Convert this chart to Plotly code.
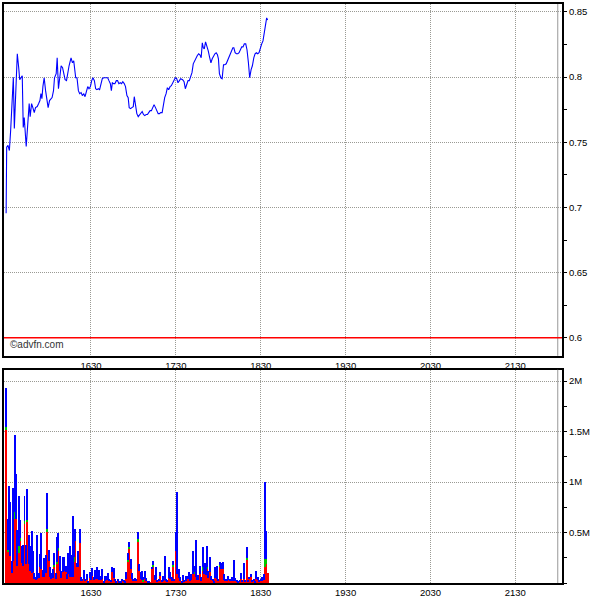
import plotly.graph_objects as go

# ---------------- data ----------------
# price readings: minutes after 15:30, price
price_min = [0.0, 0.4, 1.3, 2.3, 3.2, 4.2, 5.1, 5.8, 6.8, 7.9, 8.9, 9.6, 10.5, 11.4, 12.1, 12.8, 14.2, 15.4,
             16.3, 17.0, 18.0, 18.9, 19.9, 20.8, 22.0, 23.0, 23.9, 24.6, 25.3, 26.0, 26.9, 27.9, 28.8, 29.7,
             30.7, 31.6, 32.5, 33.5, 34.2, 35.4, 36.1, 37.0, 38.0, 38.9, 39.9, 40.8, 41.7, 42.7, 43.6, 44.5,
             45.9, 46.9, 47.8, 48.5, 49.2, 50.1, 51.1, 52.0, 53.0, 53.9, 54.9, 55.8, 56.8, 57.7, 58.6, 59.6,
             60.5, 61.4, 62.4, 63.3, 64.2, 65.2, 66.1, 67.0, 68.0, 68.9, 69.9, 70.8, 71.8, 72.7, 73.7, 74.4,
             75.1, 76.0, 76.9, 77.9, 78.8, 79.7, 80.7, 81.6, 82.5, 83.5, 84.4, 85.4, 86.3, 87.0, 88.0, 88.9,
             89.9, 90.6, 91.5, 92.4, 93.4, 94.3, 95.2, 96.2, 97.1, 98.0, 99.0, 99.9, 100.8, 101.8, 102.7,
             103.7, 104.6, 105.6, 106.5, 107.5, 108.4, 109.3, 110.3, 111.2, 112.1, 113.1, 114.0, 114.9,
             115.9, 116.8, 117.7, 118.7, 119.6, 120.6, 121.5, 122.5, 123.4, 124.8, 125.8, 126.7, 127.6,
             128.6, 129.5, 130.4, 131.4, 132.3, 133.2, 134.2, 135.1, 136.1, 137.0, 137.9, 138.7, 139.4,
             140.1, 141.0, 142.0, 142.9, 143.8, 144.8, 145.7, 146.6, 147.6, 148.5, 149.4, 150.1, 150.8,
             151.8, 152.7, 153.7, 154.6, 155.6, 156.5, 157.5, 158.4, 159.3, 160.3, 161.0, 161.9, 162.8,
             163.8, 164.7, 165.6, 166.6, 167.5, 168.4, 169.4, 170.3, 171.3, 172.2, 173.2, 174.1, 175.1,
             176.0, 176.9, 177.9, 178.8, 179.7, 180.7, 181.6, 182.5, 183.5, 184.2, 184.9]
price = [0.6956, 0.7463, 0.7476, 0.7437, 0.759, 0.782, 0.7998, 0.7606, 0.7873, 0.8179, 0.8072, 0.798,
         0.7995, 0.8011, 0.7613, 0.769, 0.7468, 0.769, 0.7797, 0.7697, 0.7797, 0.7766, 0.7728, 0.7766,
         0.7774, 0.7797, 0.782, 0.7873, 0.7835, 0.7927, 0.7995, 0.7896, 0.7804, 0.7766, 0.782, 0.7835,
         0.7843, 0.7896, 0.7995, 0.8026, 0.8148, 0.7911, 0.8011, 0.8087, 0.8072, 0.8011, 0.798, 0.7973,
         0.8034, 0.8087, 0.8148, 0.811, 0.8125, 0.8064, 0.7995, 0.7995, 0.7896, 0.7873, 0.7881, 0.7858,
         0.7873, 0.785, 0.7904, 0.7927, 0.7911, 0.7927, 0.7973, 0.7995, 0.7973, 0.7911, 0.7904, 0.7911,
         0.7904, 0.7942, 0.7988, 0.7995, 0.7995, 0.7995, 0.7995, 0.7973, 0.795, 0.7896, 0.7957, 0.795,
         0.795, 0.7973, 0.7973, 0.795, 0.7957, 0.795, 0.7965, 0.795, 0.7927, 0.7858, 0.7843, 0.7766,
         0.7758, 0.7766, 0.7774, 0.785, 0.7774, 0.772, 0.7697, 0.7713, 0.7728, 0.7736, 0.7713, 0.7705,
         0.7713, 0.7713, 0.7728, 0.7743, 0.7743, 0.7766, 0.7789, 0.7766, 0.7743, 0.772, 0.772, 0.7728,
         0.7728, 0.7789, 0.7843, 0.7873, 0.7919, 0.7904, 0.7927, 0.7934, 0.795, 0.7973, 0.7995, 0.7988,
         0.7957, 0.7973, 0.7988, 0.798, 0.7965, 0.7911, 0.795, 0.7973, 0.7973, 0.8011, 0.8034, 0.8102,
         0.8125, 0.8148, 0.8164, 0.8179, 0.8171, 0.8148, 0.8263, 0.8225, 0.8217, 0.8271, 0.824, 0.8202,
         0.8156, 0.811, 0.8141, 0.8164, 0.8179, 0.8187, 0.8171, 0.8141, 0.8026, 0.7995, 0.7988, 0.8095,
         0.8095, 0.8102, 0.8125, 0.8148, 0.8179, 0.8202, 0.8225, 0.8225, 0.8187, 0.8179, 0.8179, 0.8187,
         0.821, 0.8232, 0.8232, 0.8255, 0.8255, 0.821, 0.811, 0.7995, 0.8057, 0.8087, 0.8148, 0.8179,
         0.8187, 0.8179, 0.8187, 0.8225, 0.8255, 0.8278, 0.8347, 0.8431, 0.8454, 0.8439]

# volume per minute (millions), minute 0 = 15:30
vol_total = [1.93, 0.64, 0.96, 0.81, 0.22, 0.94, 1.47, 1.08, 0.53, 0.86, 0.63, 0.37, 0.38, 0.86, 0.38, 0.93,
             0.48, 0.37, 0.52, 0.32, 0.10, 0.06, 0.48, 0.10, 0.29, 0.50, 0.13, 0.25, 0.28, 0.89, 0.33, 0.16,
             0.10, 0.14, 0.30, 0.10, 0.46, 0.50, 0.27, 0.12, 0.26, 0.26, 0.17, 0.09, 0.30, 0.37, 0.28, 0.67,
             0.43, 0.54, 0.20, 0.32, 0.54, 0.06, 0.04, 0.13, 0.04, 0.09, 0.02, 0.11, 0.07, 0.15, 0.06, 0.13,
             0.16, 0.11, 0.13, 0.07, 0.14, 0.02, 0.07, 0.07, 0.10, 0.04, 0.03, 0.16, 0.15, 0.04, 0.02, 0.04,
             0.02, 0.02, 0.04, 0.03, 0.02, 0.11, 0.30, 0.41, 0.24, 0.10, 0.04, 0.05, 0.04, 0.51, 0.19, 0.11,
             0.12, 0.06, 0.12, 0.05, 0.02, 0.02, 0.01, 0.16, 0.22, 0.08, 0.16, 0.03, 0.04, 0.11, 0.03, 0.07,
             0.27, 0.04, 0.03, 0.16, 0.11, 0.06, 0.22, 0.04, 0.51, 0.90, 0.14, 0.06, 0.02, 0.08, 0.03, 0.07,
             0.07, 0.11, 0.04, 0.09, 0.32, 0.17, 0.43, 0.07, 0.08, 0.17, 0.06, 0.36, 0.20, 0.20, 0.37, 0.12,
             0.26, 0.07, 0.04, 0.02, 0.16, 0.17, 0.04, 0.21, 0.20, 0.21, 0.09, 0.04, 0.04, 0.07, 0.04, 0.04,
             0.06, 0.23, 0.05, 0.03, 0.02, 0.03, 0.10, 0.03, 0.20, 0.03, 0.36, 0.03, 0.06, 0.09, 0.03, 0.04,
             0.02, 0.12, 0.06, 0.03, 0.04, 0.06, 0.09, 1.00, 0.52, 0.10]
vol_red = [1.52, 0.31, 0.49, 0.27, 0.10, 0.22, 0.64, 0.64, 0.17, 0.30, 0.42, 0.20, 0.17, 0.59, 0.19, 0.61,
           0.19, 0.12, 0.10, 0.11, 0.04, 0.03, 0.04, 0.05, 0.16, 0.14, 0.06, 0.06, 0.10, 0.51, 0.22, 0.06,
           0.04, 0.05, 0.16, 0.04, 0.19, 0.32, 0.12, 0.05, 0.11, 0.12, 0.11, 0.04, 0.09, 0.06, 0.06, 0.06,
           0.21, 0.42, 0.16, 0.16, 0.40, 0.02, 0.02, 0.04, 0.02, 0.03, 0.01, 0.05, 0.03, 0.07, 0.03, 0.04,
           0.04, 0.05, 0.03, 0.03, 0.04, 0.01, 0.02, 0.03, 0.04, 0.02, 0.01, 0.11, 0.05, 0.02, 0.01, 0.02,
           0.01, 0.01, 0.02, 0.01, 0.01, 0.04, 0.21, 0.34, 0.14, 0.04, 0.02, 0.02, 0.02, 0.41, 0.12, 0.04,
           0.03, 0.02, 0.04, 0.02, 0.01, 0.01, 0.01, 0.14, 0.16, 0.03, 0.04, 0.01, 0.02, 0.07, 0.01, 0.02,
           0.03, 0.02, 0.01, 0.05, 0.04, 0.02, 0.16, 0.02, 0.32, 0.09, 0.05, 0.02, 0.01, 0.03, 0.01, 0.02,
           0.04, 0.04, 0.02, 0.03, 0.09, 0.10, 0.06, 0.03, 0.03, 0.09, 0.02, 0.12, 0.09, 0.08, 0.14, 0.05,
           0.11, 0.03, 0.02, 0.01, 0.05, 0.04, 0.02, 0.16, 0.14, 0.14, 0.03, 0.02, 0.02, 0.03, 0.02, 0.02,
           0.02, 0.02, 0.02, 0.01, 0.01, 0.01, 0.04, 0.01, 0.04, 0.01, 0.23, 0.01, 0.04, 0.06, 0.01, 0.02,
           0.01, 0.04, 0.03, 0.01, 0.02, 0.02, 0.03, 0.16, 0.19, 0.10]
vol_green = [0.03, 0.02, 0.05, 0, 0, 0, 0.07, 0, 0, 0.07, 0.03, 0, 0, 0.03, 0, 0.02,
             0, 0, 0, 0, 0, 0, 0, 0, 0, 0, 0, 0, 0, 0.03, 0, 0,
             0, 0, 0.02, 0, 0.02, 0.03, 0, 0, 0, 0, 0, 0, 0, 0, 0, 0,
             0.05, 0, 0, 0, 0, 0, 0, 0, 0, 0, 0, 0, 0, 0, 0, 0,
             0, 0, 0, 0, 0, 0, 0, 0, 0, 0, 0, 0, 0, 0, 0, 0,
             0, 0, 0, 0, 0, 0, 0.02, 0.02, 0, 0, 0, 0, 0, 0.03, 0, 0,
             0, 0.01, 0, 0, 0, 0, 0, 0, 0.02, 0, 0, 0, 0, 0, 0, 0,
             0, 0, 0, 0, 0, 0, 0.02, 0, 0, 0, 0, 0, 0, 0, 0, 0,
             0, 0, 0, 0, 0, 0.01, 0, 0, 0, 0, 0, 0.04, 0, 0, 0.02, 0,
             0, 0, 0, 0, 0, 0, 0, 0.02, 0, 0, 0, 0, 0, 0, 0, 0,
             0, 0, 0, 0, 0, 0, 0, 0, 0, 0, 0.02, 0, 0, 0, 0, 0,
             0, 0, 0, 0, 0, 0, 0, 0.08, 0.05, 0]

x_tickvals = [60, 120, 180, 240, 300, 360]
x_ticktext = ["1630", "1730", "1830", "1930", "2030", "2130"]
session_end = 390  # 22:00
prev_close = 0.6

price_ticks = [0.6, 0.65, 0.7, 0.75, 0.8, 0.85]
price_ticktext = ["0.6", "0.65", "0.7", "0.75", "0.8", "0.85"]
vol_ticks = [0.5, 1.0, 1.5, 2.0]
vol_ticktext = ["0.5M", "1M", "1.5M", "2M"]

# ---------------- figure ----------------
minutes = list(range(len(vol_total)))
vol_blue = [t - r - g for t, r, g in zip(vol_total, vol_red, vol_green)]

FONT = dict(family="Liberation Sans, Arial, sans-serif", size=9.5, color="#000000")
GRID = "#9a9a94"
GRIDDASH = "1px,1px"

fig = go.Figure()
fig.add_trace(go.Scatter(x=price_min, y=price, mode="lines",
                         line=dict(color="#0000ff", width=1.1), xaxis="x", yaxis="y",
                         showlegend=False, hoverinfo="skip"))
for vals, col in [(vol_red, "#ff0000"), (vol_green, "#00c800"), (vol_blue, "#0000ff")]:
    fig.add_trace(go.Bar(x=minutes, y=vals, width=0.7, marker=dict(color=col, line=dict(width=0)),
                         xaxis="x2", yaxis="y2", showlegend=False, hoverinfo="skip"))

xcommon = dict(range=[-1.5, 393], tickvals=x_tickvals, ticktext=x_ticktext, showgrid=True,
               gridcolor=GRID, griddash=GRIDDASH, gridwidth=1, ticks="", showline=True,
               linecolor="#000000", linewidth=2, mirror=True, zeroline=False,
               tickfont=FONT, fixedrange=True)
ycommon = dict(side="right", showgrid=True, gridcolor=GRID, griddash=GRIDDASH, gridwidth=1,
               ticks="outside", ticklen=3, tickcolor="#000000", showline=True,
               linecolor="#000000", linewidth=2, mirror=True, zeroline=False, tickfont=FONT,
               fixedrange=True)

fig.update_layout(
    width=600, height=600,
    margin=dict(l=2, r=38, t=3, b=16),
    paper_bgcolor="#ffffff", plot_bgcolor="#ffffff",
    barmode="stack", bargap=0,
    font=FONT,
    xaxis=dict(**xcommon, anchor="y"),
    xaxis2=dict(**xcommon, anchor="y2", matches="x"),
    yaxis=dict(**ycommon, domain=[0.3924, 1.0], range=[0.5862, 0.8561],
               tickvals=price_ticks, ticktext=price_ticktext, anchor="x",
               minor=dict(dtick=0.025, tick0=0.6, ticks="outside", ticklen=3,
                          tickcolor="#000000", showgrid=False)),
    yaxis2=dict(**ycommon, domain=[0.0, 0.3683], range=[0, 2.113],
                tickvals=vol_ticks, ticktext=vol_ticktext, anchor="x2",
                minor=dict(dtick=0.25, tick0=0, ticks="outside", ticklen=3,
                           tickcolor="#000000", showgrid=False)),
    shapes=[
        dict(type="line", xref="x", yref="y domain", x0=session_end, x1=session_end, y0=0, y1=1,
             line=dict(color="#999999", width=1)),
        dict(type="line", xref="x2", yref="y2 domain", x0=session_end, x1=session_end, y0=0, y1=1,
             line=dict(color="#999999", width=1)),
        dict(type="line", xref="x domain", yref="y", x0=0, x1=1, y0=prev_close, y1=prev_close,
             line=dict(color="#ff0000", width=1.5)),
    ],
    annotations=[
        dict(text="©advfn.com", xref="x domain", yref="y domain", x=0.008, y=0.012,
             xanchor="left", yanchor="bottom", showarrow=False,
             font=dict(family="Liberation Sans, Arial, sans-serif", size=10, color="#333333")),
    ],
)

fig.write_html("out.html", config={"displayModeBar": False},
               post_script="document.body.style.margin='0';document.body.style.overflow='hidden';")
